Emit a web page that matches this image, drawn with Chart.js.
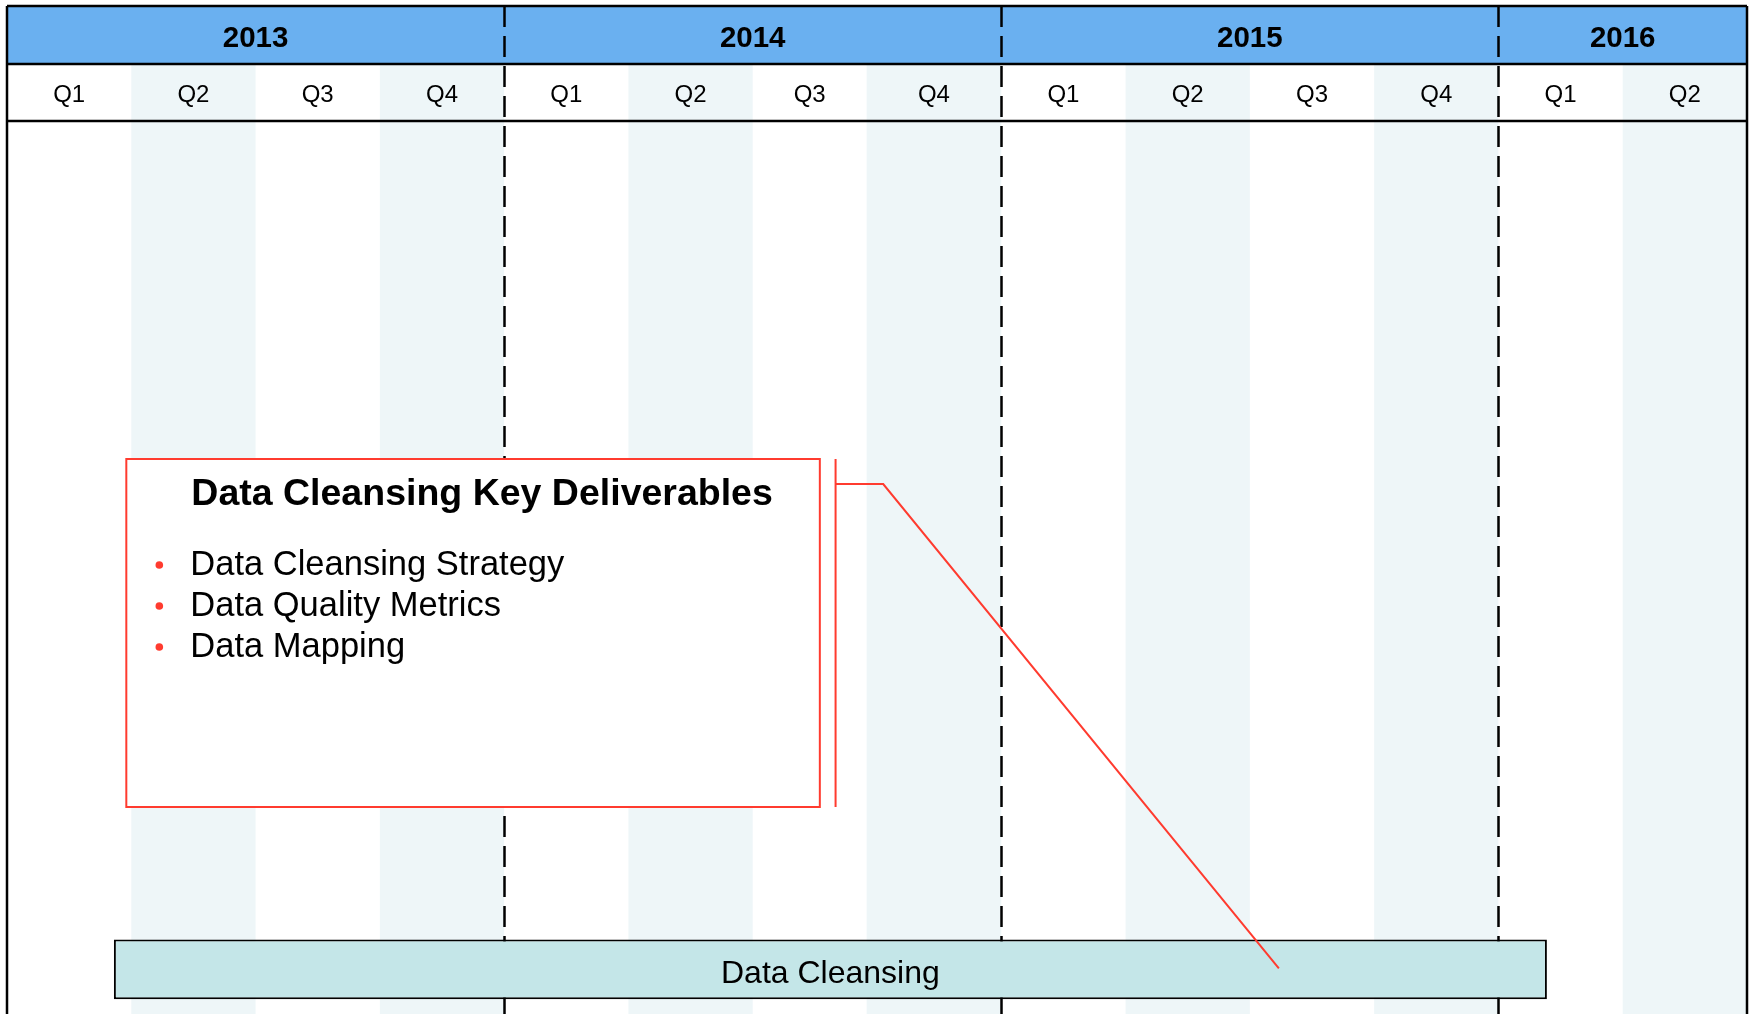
<!DOCTYPE html>
<html>
<head>
<meta charset="utf-8">
<title>Data Cleansing Timeline</title>
<script src="https://cdn.jsdelivr.net/npm/chart.js@4.4.1/dist/chart.umd.min.js"></script>
<style>
    html, body { margin: 0; padding: 0; background: #fff; overflow: hidden; }
    #wrap { width: 1752px; height: 1014px; }
</style>
</head>
<body>
<div id="wrap"><canvas id="timeline"></canvas></div>
<script>
// the time axis counts months from January 2013
const YEARS = ['2013', '2014', '2015', '2016'];
const YEAR_STARTS = [0, 12, 24, 36];
const YEAR_ENDS = [12, 24, 36, 42];

const QUARTERS = ['Q1', 'Q2', 'Q3', 'Q4', 'Q1', 'Q2', 'Q3', 'Q4', 'Q1', 'Q2', 'Q3', 'Q4', 'Q1', 'Q2'];
const QUARTER_STARTS = [0, 3, 6, 9, 12, 15, 18, 20.75, 24, 27, 30, 33, 36, 39];
const QUARTER_ENDS = [3, 6, 9, 12, 15, 18, 20.75, 24, 27, 30, 33, 36, 39, 42];

const LANES = ['', '', '', '', '', '', '', '', '', 'Data Cleansing'];
const TASKS = ['Data Cleansing'];
const TASK_START = [2.58];
const TASK_END = [37.17];

const CALLOUT_TITLE = 'Data Cleansing Key Deliverables';
const CALLOUT_ITEMS = ['Data Cleansing Strategy', 'Data Quality Metrics', 'Data Mapping'];

// layout of the callout: x in months, y in pixels
const BOX_FROM = 2.88;
const BOX_TO = 19.62;
const BOX_TOP = 459;
const BOX_BOTTOM = 807;
const LEADER_X = 20;
const LEADER_ELBOW_X = 21.15;
const LEADER_ELBOW_Y = 484;
const LEADER_TARGET = 30.7;

const HEADER_BLUE = '#6AB0F0';
const STRIPE = '#EEF6F8';
const BAR_FILL = '#C4E6E8';
const RED = '#FF3B2F';
const FONT = '"Liberation Sans", Arial, Helvetica, sans-serif';

function midpoints(starts, ends) {
    return starts.map((s, i) => (s + ends[i]) / 2);
}

const ganttFrame = {
    id: 'ganttFrame',
    beforeDraw(chart) {
        const ctx = chart.ctx;
        const a = chart.chartArea;
        const x = chart.scales.x;
        const x2 = chart.scales.x2;
        ctx.save();
        ctx.fillStyle = '#fff';
        ctx.fillRect(0, 0, chart.width, chart.height);
        ctx.fillStyle = HEADER_BLUE;
        ctx.fillRect(a.left, x2.top, a.right - a.left, x2.bottom - x2.top);
        ctx.fillStyle = STRIPE;
        for (let i = 1; i < QUARTER_STARTS.length; i += 2) {
            const l = x.getPixelForValue(QUARTER_STARTS[i]);
            const r = x.getPixelForValue(QUARTER_ENDS[i]);
            ctx.fillRect(l, x.top, r - l, chart.height - x.top);
        }
        ctx.restore();
    },
    beforeDatasetsDraw(chart) {
        const ctx = chart.ctx;
        const a = chart.chartArea;
        const x = chart.scales.x;
        const x2 = chart.scales.x2;
        ctx.save();
        ctx.strokeStyle = '#000';
        ctx.lineWidth = 2.5;

        // dashed year boundaries
        ctx.setLineDash([21, 9]);
        ctx.beginPath();
        for (let i = 1; i < YEAR_STARTS.length; i++) {
            const px = Math.round(x.getPixelForValue(YEAR_STARTS[i])) + 0.5;
            ctx.moveTo(px, x2.top);
            ctx.lineTo(px, chart.height);
        }
        ctx.stroke();
        ctx.setLineDash([]);

        // header rules and outer frame
        ctx.beginPath();
        ctx.moveTo(a.left, x2.top);
        ctx.lineTo(a.right, x2.top);
        ctx.moveTo(a.left, x.top);
        ctx.lineTo(a.right, x.top);
        ctx.moveTo(a.left, x.bottom);
        ctx.lineTo(a.right, x.bottom);
        ctx.moveTo(a.left, x2.top);
        ctx.lineTo(a.left, chart.height);
        ctx.moveTo(a.right, x2.top);
        ctx.lineTo(a.right, chart.height);
        ctx.stroke();
        ctx.restore();
    },
    afterDatasetsDraw(chart) {
        const ctx = chart.ctx;
        const x = chart.scales.x;
        const meta = chart.getDatasetMeta(0);
        ctx.save();

        // task names inside the bars
        ctx.fillStyle = '#000';
        ctx.font = '32px ' + FONT;
        ctx.textAlign = 'center';
        ctx.textBaseline = 'middle';
        meta.data.forEach((bar, i) => {
            const p = bar.getProps(['x', 'y', 'base'], true);
            ctx.fillText(TASKS[i], (p.x + p.base) / 2, p.y + 5);
        });

        // callout box
        const left = x.getPixelForValue(BOX_FROM);
        const right = x.getPixelForValue(BOX_TO);
        ctx.fillStyle = '#fff';
        ctx.fillRect(left, BOX_TOP, right - left, BOX_BOTTOM - BOX_TOP);
        ctx.strokeStyle = RED;
        ctx.lineWidth = 2;
        ctx.strokeRect(left, BOX_TOP, right - left, BOX_BOTTOM - BOX_TOP);

        ctx.fillStyle = '#000';
        ctx.font = 'bold 37.5px ' + FONT;
        ctx.fillText(CALLOUT_TITLE, (left + right) / 2 + 9, BOX_TOP + 36);

        ctx.textAlign = 'left';
        ctx.font = '34.5px ' + FONT;
        CALLOUT_ITEMS.forEach((item, i) => {
            const ty = BOX_TOP + 106 + i * 41;
            ctx.fillStyle = RED;
            ctx.beginPath();
            ctx.arc(left + 33, ty, 3.8, 0, Math.PI * 2);
            ctx.fill();
            ctx.fillStyle = '#000';
            ctx.fillText(item, left + 64, ty);
        });

        // leader line from the callout to the bar
        const target = meta.data[0].getProps(['y'], true).y;
        const lx = x.getPixelForValue(LEADER_X);
        ctx.strokeStyle = RED;
        ctx.lineWidth = 2;
        ctx.beginPath();
        ctx.moveTo(lx, BOX_TOP);
        ctx.lineTo(lx, BOX_BOTTOM);
        ctx.moveTo(lx, LEADER_ELBOW_Y);
        ctx.lineTo(x.getPixelForValue(LEADER_ELBOW_X), LEADER_ELBOW_Y);
        ctx.lineTo(x.getPixelForValue(LEADER_TARGET), target - 1);
        ctx.stroke();
        ctx.restore();
    }
};

const ctx = document.getElementById('timeline').getContext('2d');
const chart = new Chart(ctx, {
    type: 'bar',
    data: {
        labels: LANES,
        datasets: [{
            label: 'Tasks',
            data: TASKS.map((t, i) => ({ x: [TASK_START[i], TASK_END[i]], y: t })),
            backgroundColor: BAR_FILL,
            borderColor: '#000',
            borderWidth: 2,
            borderSkipped: false,
            barPercentage: 0.67,
            categoryPercentage: 1
        }]
    },
    options: {
        indexAxis: 'y',
        responsive: true,
        maintainAspectRatio: false,
        animation: false,
        layout: { padding: { left: 7, right: 5, top: 6, bottom: 0 } },
        plugins: {
            legend: { display: false },
            tooltip: { enabled: false }
        },
        scales: {
            y: { type: 'category', labels: LANES, display: false },
            x: {
                type: 'linear',
                position: 'top',
                weight: 0,
                min: 0,
                max: 42,
                grid: { display: false, drawTicks: false },
                border: { display: false },
                afterBuildTicks: s => {
                    s.ticks = midpoints(QUARTER_STARTS, QUARTER_ENDS).map(v => ({ value: v }));
                },
                afterFit: s => { s.height = 57; },
                ticks: {
                    autoSkip: false,
                    maxRotation: 0,
                    padding: 11,
                    color: '#000',
                    font: { family: FONT, size: 24, lineHeight: 1.2 },
                    callback: (v, i) => QUARTERS[i]
                }
            },
            x2: {
                type: 'linear',
                position: 'top',
                weight: 1,
                min: 0,
                max: 42,
                grid: { display: false, drawTicks: false },
                border: { display: false },
                afterBuildTicks: s => {
                    s.ticks = midpoints(YEAR_STARTS, YEAR_ENDS).map(v => ({ value: v }));
                },
                afterFit: s => { s.height = 58; },
                ticks: {
                    autoSkip: false,
                    maxRotation: 0,
                    padding: 7,
                    color: '#000',
                    font: { family: FONT, size: 29.5, weight: 'bold', lineHeight: 1.2 },
                    callback: (v, i) => YEARS[i]
                }
            }
        }
    },
    plugins: [ganttFrame]
});
</script>
</body>
</html>
